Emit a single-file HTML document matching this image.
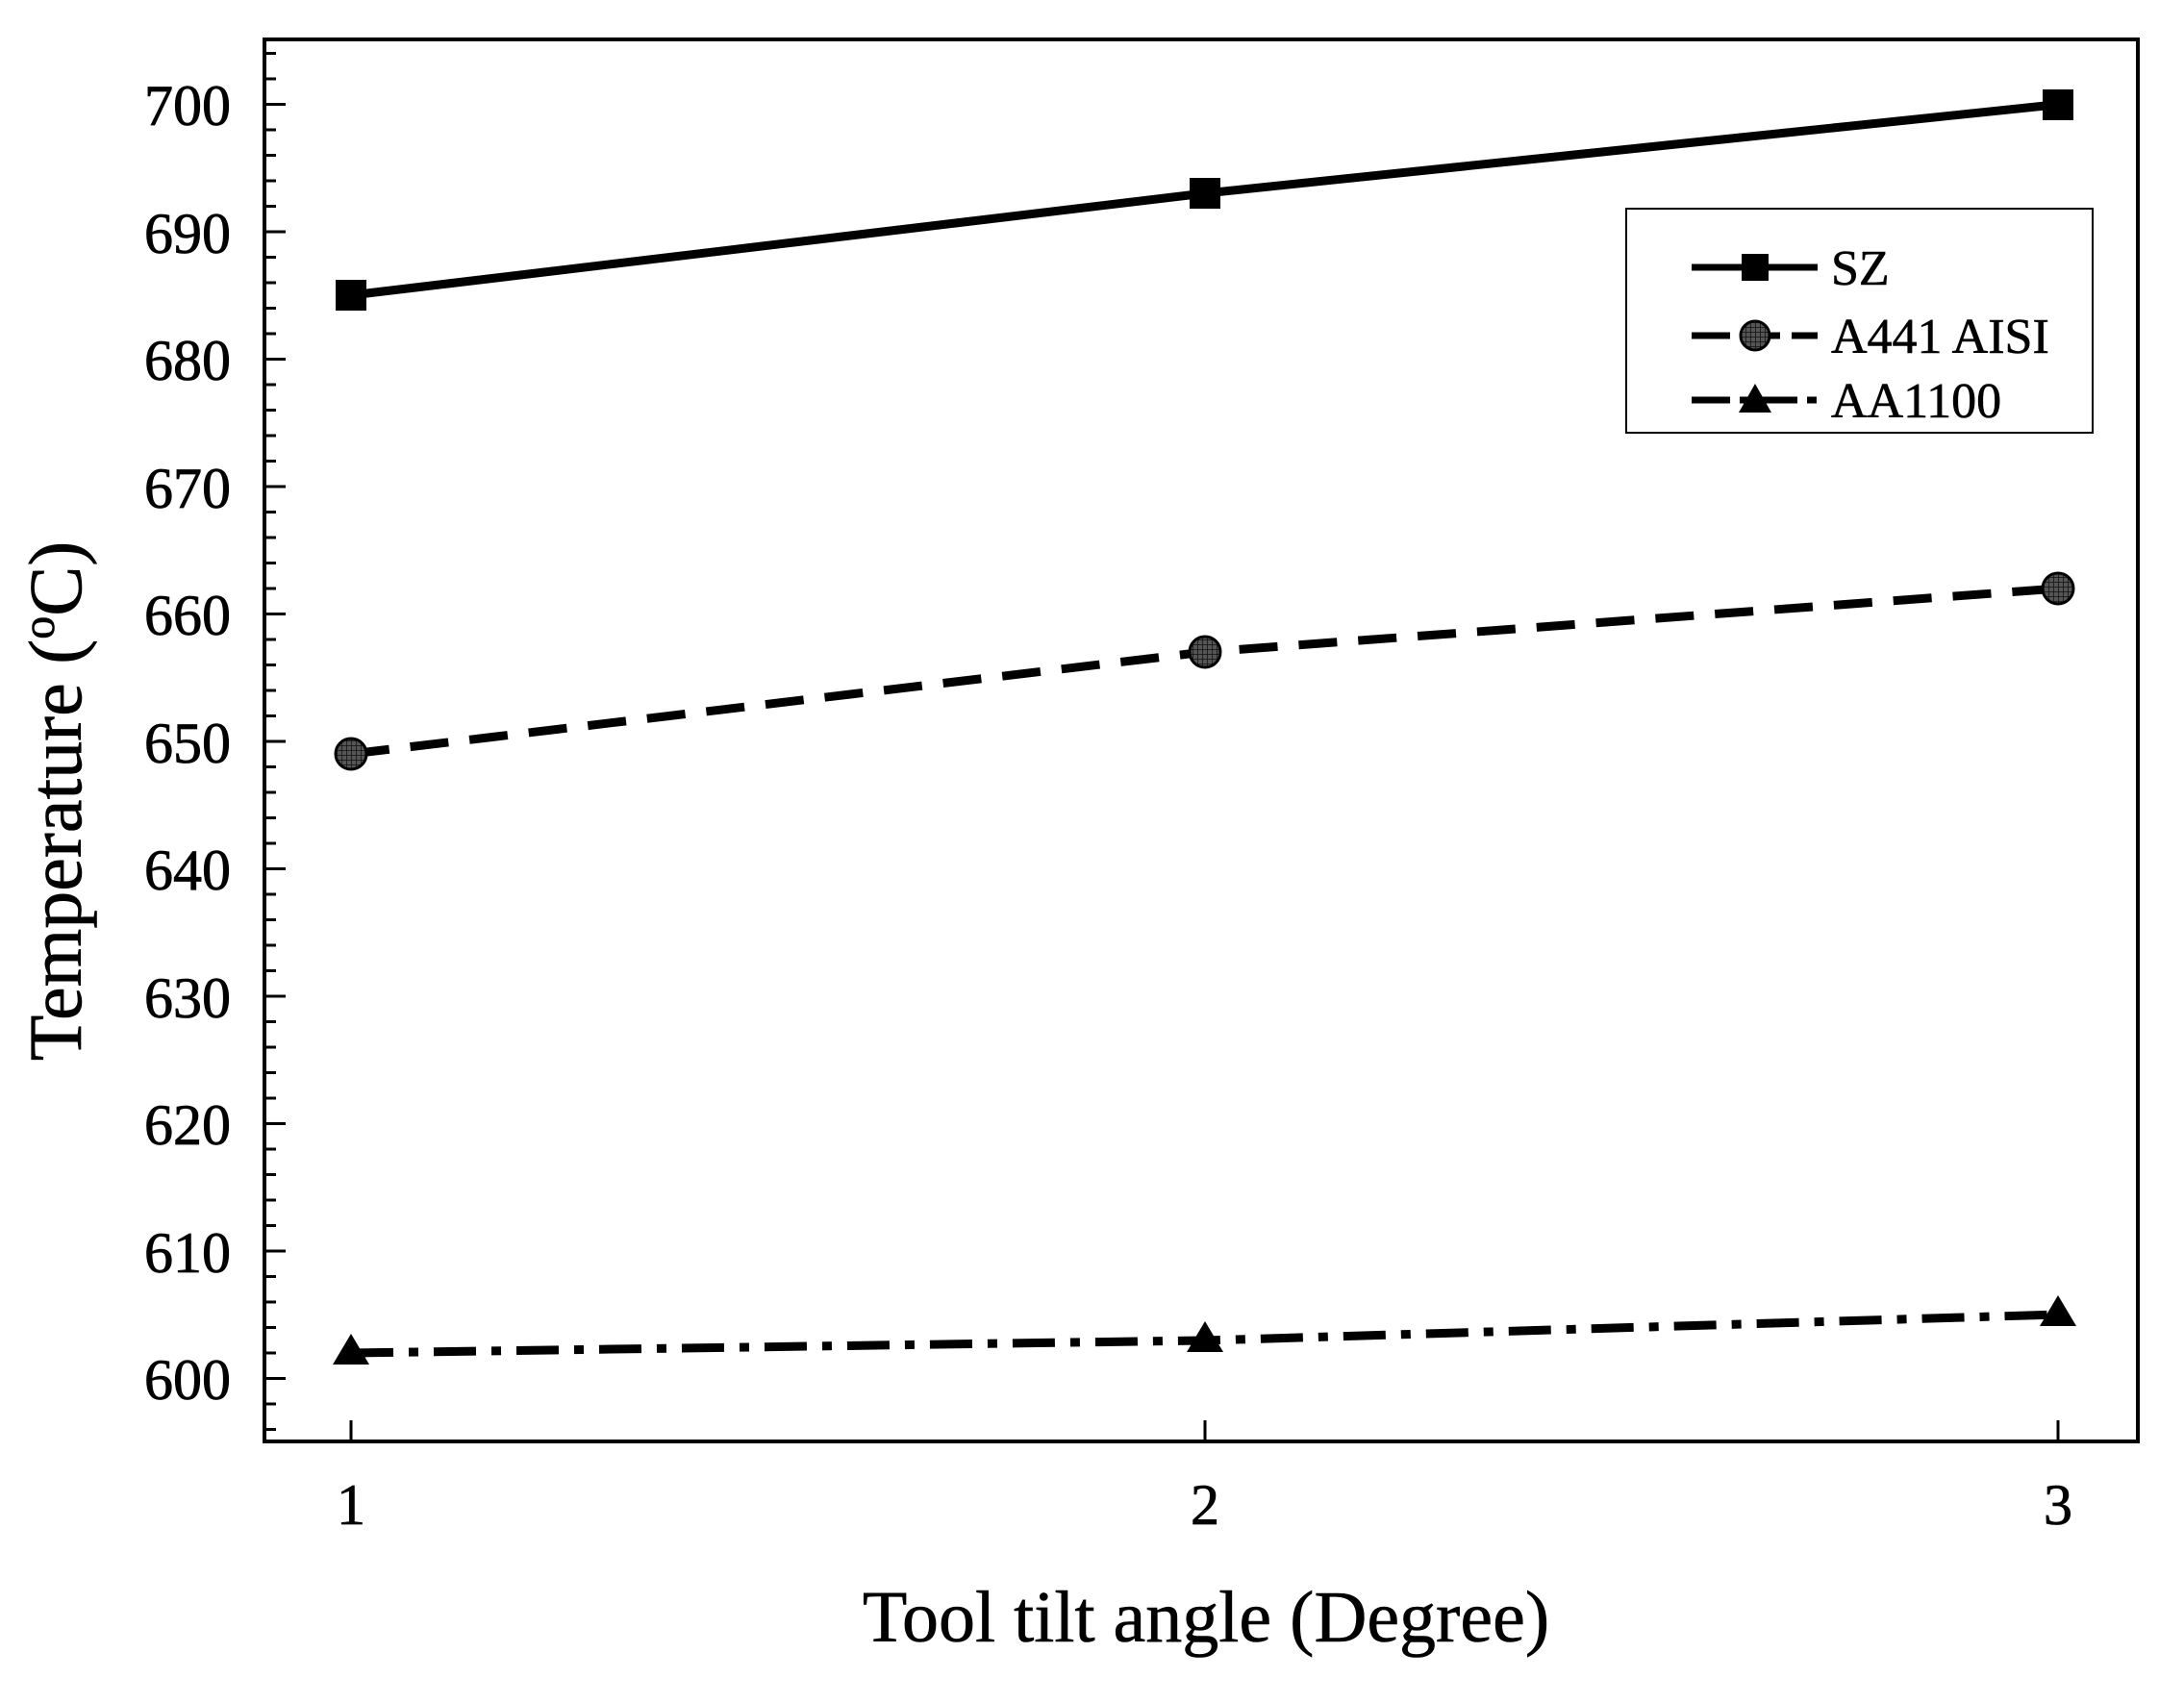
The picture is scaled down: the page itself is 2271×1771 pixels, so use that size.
<!DOCTYPE html>
<html><head><meta charset="utf-8"><style>body{margin:0;background:#fff}</style></head>
<body>
<svg width="2271" height="1766" viewBox="0 0 2271 1766" xmlns="http://www.w3.org/2000/svg" font-family="Liberation Serif, serif">
<defs>
<pattern id="hatch" width="5" height="5" patternUnits="userSpaceOnUse"><rect width="5" height="5" fill="#555"/><path d="M0 0H5M0 0V5" stroke="#111" stroke-width="1.5"/></pattern>
</defs>
<rect x="275" y="41" width="1948" height="1458" fill="none" stroke="#000" stroke-width="4"/>
<path stroke="#000" stroke-width="3" fill="none" d="
M275 1486.5h12M275 1460h12M275 1433.5h22M275 1407h12M275 1380.5h12M275 1354h12M275 1327.5h12M275 1301h22M275 1274.5h12M275 1248h12M275 1221.5h12M275 1195h12M275 1168.5h22M275 1142h12M275 1115.5h12M275 1089h12M275 1062.5h12M275 1036h22M275 1009.5h12M275 983h12M275 956.5h12M275 930h12M275 903.5h22M275 877h12M275 850.5h12M275 824h12M275 797.5h12M275 771h22M275 744.5h12M275 718h12M275 691.5h12M275 665h12M275 638.5h22M275 612h12M275 585.5h12M275 559h12M275 532.5h12M275 506h22M275 479.5h12M275 453h12M275 426.5h12M275 400h12M275 373.5h22M275 347h12M275 320.5h12M275 294h12M275 267.5h12M275 241h22M275 214.5h12M275 188h12M275 161.5h12M275 135h12M275 108.5h22M275 82h12M275 55.5h12
M365 1499v-22M1253 1499v-22M2140 1499v-22"/>
<g font-size="60" text-anchor="end" fill="#000" stroke="#000" stroke-width="0.8">
<text x="240" y="130">700</text><text x="240" y="263">690</text><text x="240" y="395">680</text><text x="240" y="528">670</text><text x="240" y="660">660</text><text x="240" y="793">650</text><text x="240" y="925">640</text><text x="240" y="1058">630</text><text x="240" y="1190">620</text><text x="240" y="1323">610</text><text x="240" y="1455">600</text>
</g>
<g font-size="60" text-anchor="middle" stroke="#000" stroke-width="0.8"><text x="365" y="1585">1</text><text x="1253" y="1585">2</text><text x="2140" y="1585">3</text></g>
<text x="1254" y="1707" font-size="76" text-anchor="middle" stroke="#000" stroke-width="0.6">Tool tilt angle (Degree)</text>
<text transform="translate(84,833) rotate(-90)" font-size="78" text-anchor="middle" stroke="#000" stroke-width="0.6">Temperature (<tspan font-size="48" dy="-28">o</tspan><tspan dy="28">C)</tspan></text>
<polyline points="365,307 1253,201 2140,108.6" fill="none" stroke="#000" stroke-width="9"/>
<polyline points="365,784 1253,678 2140,612" fill="none" stroke="#000" stroke-width="9" stroke-dasharray="40,22"/>
<polyline points="365,1407 1253,1394 2140,1367" fill="none" stroke="#000" stroke-width="9" stroke-dasharray="44,16,10,16"/>
<g fill="#000">
<rect x="349" y="291" width="32" height="32"/><rect x="1237" y="185" width="32" height="32"/><rect x="2124" y="93" width="32" height="32"/>
</g>
<g fill="url(#hatch)" stroke="#000" stroke-width="3">
<circle cx="365" cy="784" r="16"/><circle cx="1253" cy="678" r="16"/><circle cx="2140" cy="612" r="16"/>
</g>
<g fill="#000">
<polygon points="365,1387 346,1419 384,1419"/><polygon points="1253,1374 1234,1406 1272,1406"/><polygon points="2140,1347 2121,1379 2159,1379"/>
</g>
<rect x="1691" y="217" width="485" height="233" fill="#fff" stroke="#000" stroke-width="2"/>
<line x1="1759" x2="1890" y1="278" y2="278" stroke="#000" stroke-width="7"/>
<rect x="1811" y="264" width="28" height="28"/>
<line x1="1759" x2="1890" y1="349" y2="349" stroke="#000" stroke-width="7" stroke-dasharray="40,12"/>
<circle cx="1825" cy="349" r="15" fill="url(#hatch)" stroke="#000" stroke-width="3"/>
<line x1="1759" x2="1890" y1="416" y2="416" stroke="#000" stroke-width="7" stroke-dasharray="40,10,10,10"/>
<polygon points="1825,399 1808,429 1842,429"/>
<g font-size="52" stroke="#000" stroke-width="0.6"><text x="1904" y="296">SZ</text><text x="1904" y="367">A441 AISI</text><text x="1904" y="434">AA1100</text></g>
</svg>
</body></html>
